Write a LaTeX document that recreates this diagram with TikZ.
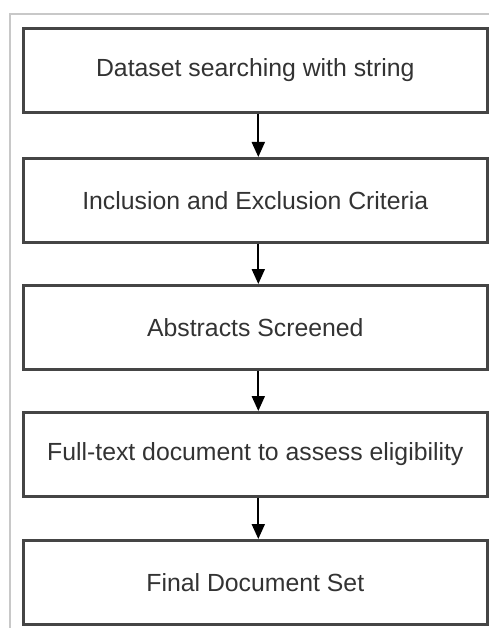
\documentclass[tikz,border=0pt]{standalone}
\usepackage{fontspec}
\setmainfont{Liberation Sans}
\usetikzlibrary{arrows.meta}
\definecolor{boxline}{HTML}{454545}
\definecolor{boxtext}{HTML}{333333}
\definecolor{frameline}{HTML}{C8C8C8}
\begin{document}
\begin{tikzpicture}[x=1pt,y=-1pt,
  stepbox/.style={draw=boxline,line width=2.6pt,fill=white,minimum width=464pt,
    minimum height=84pt,inner sep=0pt,text=boxtext,font=\fontsize{24.8}{28}\selectfont,anchor=north west},
  flow/.style={draw=black,line width=2pt,-{Triangle[length=15pt,width=13pt]}}]
\useasboundingbox (0,0) rectangle (489,628);
\fill[white] (0,0) rectangle (489,628);
% light frame along the top and left edges
\draw[frameline,line width=1.8pt] (10,628) -- (10,14) -- (489,14);
% process steps
\node[stepbox] (s1) at (22,27)  {Dataset searching with string};
\node[stepbox] (s2) at (22,157) {Inclusion and Exclusion Criteria};
\node[stepbox] (s3) at (22,284) {Abstracts Screened};
\node[stepbox] (s4) at (22,411) {Full-text document to assess eligibility};
\node[stepbox] (s5) at (22,539) {Final Document Set};
% connectors
\draw[flow] ([xshift=3pt]s1.south) -- ([xshift=3pt]s2.north);
\draw[flow] ([xshift=3pt]s2.south) -- ([xshift=3pt]s3.north);
\draw[flow] ([xshift=3pt]s3.south) -- ([xshift=3pt]s4.north);
\draw[flow] ([xshift=3pt]s4.south) -- ([xshift=3pt]s5.north);
\end{tikzpicture}
\end{document}
